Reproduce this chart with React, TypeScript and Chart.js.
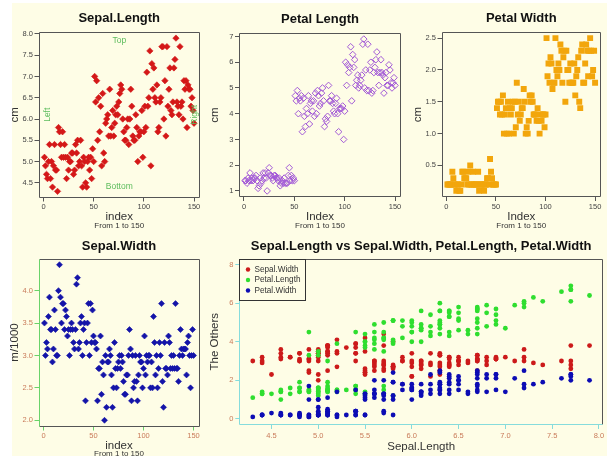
import React, { useEffect, useRef } from 'react';
import { Chart, registerables } from 'chart.js';
Chart.register(...registerables);

// ---------------- data (iris) ----------------
const SEPAL_LENGTH = [
  5.1, 4.9, 4.7, 4.6, 5.0, 5.4, 4.6, 5.0, 4.4, 4.9, 5.4, 4.8, 4.8, 4.3, 5.8, 5.7, 5.4, 5.1, 5.7, 5.1,
  5.4, 5.1, 4.6, 5.1, 4.8, 5.0, 5.0, 5.2, 5.2, 4.7, 4.8, 5.4, 5.2, 5.5, 4.9, 5.0, 5.5, 4.9, 4.4, 5.1,
  5.0, 4.5, 4.4, 5.0, 5.1, 4.8, 5.1, 4.6, 5.3, 5.0, 7.0, 6.4, 6.9, 5.5, 6.5, 5.7, 6.3, 4.9, 6.6, 5.2,
  5.0, 5.9, 6.0, 6.1, 5.6, 6.7, 5.6, 5.8, 6.2, 5.6, 5.9, 6.1, 6.3, 6.1, 6.4, 6.6, 6.8, 6.7, 6.0, 5.7,
  5.5, 5.5, 5.8, 6.0, 5.4, 6.0, 6.7, 6.3, 5.6, 5.5, 5.5, 6.1, 5.8, 5.0, 5.6, 5.7, 5.7, 6.2, 5.1, 5.7,
  6.3, 5.8, 7.1, 6.3, 6.5, 7.6, 4.9, 7.3, 6.7, 7.2, 6.5, 6.4, 6.8, 5.7, 5.8, 6.4, 6.5, 7.7, 7.7, 6.0,
  6.9, 5.6, 7.7, 6.3, 6.7, 7.2, 6.2, 6.1, 6.4, 7.2, 7.4, 7.9, 6.4, 6.3, 6.1, 7.7, 6.3, 6.4, 6.0, 6.9,
  6.7, 6.9, 5.8, 6.8, 6.7, 6.7, 6.3, 6.5, 6.2, 5.9,
];
const SEPAL_WIDTH = [
  3.5, 3.0, 3.2, 3.1, 3.6, 3.9, 3.4, 3.4, 2.9, 3.1, 3.7, 3.4, 3.0, 3.0, 4.0, 4.4, 3.9, 3.5, 3.8, 3.8,
  3.4, 3.7, 3.6, 3.3, 3.4, 3.0, 3.4, 3.5, 3.4, 3.2, 3.1, 3.4, 4.1, 4.2, 3.1, 3.2, 3.5, 3.6, 3.0, 3.4,
  3.5, 2.3, 3.2, 3.5, 3.8, 3.0, 3.8, 3.2, 3.7, 3.3, 3.2, 3.2, 3.1, 2.3, 2.8, 2.8, 3.3, 2.4, 2.9, 2.7,
  2.0, 3.0, 2.2, 2.9, 2.9, 3.1, 3.0, 2.7, 2.2, 2.5, 3.2, 2.8, 2.5, 2.8, 2.9, 3.0, 2.8, 3.0, 2.9, 2.6,
  2.4, 2.4, 2.7, 2.7, 3.0, 3.4, 3.1, 2.3, 3.0, 2.5, 2.6, 3.0, 2.6, 2.3, 2.7, 3.0, 2.9, 2.9, 2.5, 2.8,
  3.3, 2.7, 3.0, 2.9, 3.0, 3.0, 2.5, 2.9, 2.5, 3.6, 3.2, 2.7, 3.0, 2.5, 2.8, 3.2, 3.0, 3.8, 2.6, 2.2,
  3.2, 2.8, 2.8, 2.7, 3.3, 3.2, 2.8, 3.0, 2.8, 3.0, 2.8, 3.8, 2.8, 2.8, 2.6, 3.0, 3.4, 3.1, 3.0, 3.1,
  3.1, 3.1, 2.7, 3.2, 3.3, 3.0, 2.5, 3.0, 3.4, 3.0,
];
const PETAL_LENGTH = [
  1.4, 1.4, 1.3, 1.5, 1.4, 1.7, 1.4, 1.5, 1.4, 1.5, 1.5, 1.6, 1.4, 1.1, 1.2, 1.5, 1.3, 1.4, 1.7, 1.5,
  1.7, 1.5, 1.0, 1.7, 1.9, 1.6, 1.6, 1.5, 1.4, 1.6, 1.6, 1.5, 1.5, 1.4, 1.5, 1.2, 1.3, 1.4, 1.3, 1.5,
  1.3, 1.3, 1.3, 1.6, 1.9, 1.4, 1.6, 1.4, 1.5, 1.4, 4.7, 4.5, 4.9, 4.0, 4.6, 4.5, 4.7, 3.3, 4.6, 3.9,
  3.5, 4.2, 4.0, 4.7, 3.6, 4.4, 4.5, 4.1, 4.5, 3.9, 4.8, 4.0, 4.9, 4.7, 4.3, 4.4, 4.8, 5.0, 4.5, 3.5,
  3.8, 3.7, 3.9, 5.1, 4.5, 4.5, 4.7, 4.4, 4.1, 4.0, 4.4, 4.6, 4.0, 3.3, 4.2, 4.2, 4.2, 4.3, 3.0, 4.1,
  6.0, 5.1, 5.9, 5.6, 5.8, 6.6, 4.5, 6.3, 5.8, 6.1, 5.1, 5.3, 5.5, 5.0, 5.1, 5.3, 5.5, 6.7, 6.9, 5.0,
  5.7, 4.9, 6.7, 4.9, 5.7, 6.0, 4.8, 4.9, 5.6, 5.8, 6.1, 6.4, 5.6, 5.1, 5.6, 6.1, 5.6, 5.5, 4.8, 5.4,
  5.6, 5.1, 5.1, 5.9, 5.7, 5.2, 5.0, 5.2, 5.4, 5.1,
];
const PETAL_WIDTH = [
  0.2, 0.2, 0.2, 0.2, 0.2, 0.4, 0.3, 0.2, 0.2, 0.1, 0.2, 0.2, 0.1, 0.1, 0.2, 0.4, 0.4, 0.3, 0.3, 0.3,
  0.2, 0.4, 0.2, 0.5, 0.2, 0.2, 0.4, 0.2, 0.2, 0.2, 0.2, 0.4, 0.1, 0.2, 0.2, 0.2, 0.2, 0.1, 0.2, 0.2,
  0.3, 0.3, 0.2, 0.6, 0.4, 0.3, 0.2, 0.2, 0.2, 0.2, 1.4, 1.5, 1.5, 1.3, 1.5, 1.3, 1.6, 1.0, 1.3, 1.4,
  1.0, 1.5, 1.0, 1.4, 1.3, 1.4, 1.5, 1.0, 1.5, 1.1, 1.8, 1.3, 1.5, 1.2, 1.3, 1.4, 1.4, 1.7, 1.5, 1.0,
  1.1, 1.0, 1.2, 1.6, 1.5, 1.6, 1.5, 1.3, 1.3, 1.3, 1.2, 1.4, 1.2, 1.0, 1.3, 1.2, 1.3, 1.3, 1.1, 1.3,
  2.5, 1.9, 2.1, 1.8, 2.2, 2.1, 1.7, 1.8, 1.8, 2.5, 2.0, 1.9, 2.1, 2.0, 2.4, 2.3, 1.8, 2.2, 2.3, 1.5,
  2.3, 2.0, 2.0, 1.8, 2.1, 1.8, 1.8, 1.8, 2.1, 1.6, 1.9, 2.0, 2.2, 1.5, 1.4, 2.3, 2.4, 1.8, 1.8, 2.1,
  2.4, 2.3, 1.9, 2.3, 2.5, 2.3, 1.9, 2.0, 2.3, 1.8,
];

const INDEX_TICKS = [0, 50, 100, 150];
const SL_TICKS = [4.5, 5.0, 5.5, 6.0, 6.5, 7.0, 7.5, 8.0];
const PL_TICKS = [1, 2, 3, 4, 5, 6, 7];
const PW_TICKS = [0.5, 1.0, 1.5, 2.0, 2.5];
const SW_TICKS = [2.0, 2.5, 3.0, 3.5, 4.0];
const SCAT_X_TICKS = [4.5, 5.0, 5.5, 6.0, 6.5, 7.0, 7.5, 8.0];
const SCAT_Y_TICKS = [0, 2, 4, 6, 8];
const LEGEND_LABELS = ['Sepal.Width', 'Petal.Length', 'Petal.Width'];

// ---------------- styling ----------------
const W = 607;
const H = 456;
const Y_AXIS_W = 30;
const X_AXIS_H = 18;
const FF = '"Liberation Sans", Arial, sans-serif';
const BG = '#fefde6';
const FRAME = '#555555';
const TICK_TXT = '#444444';
const TICK_TXT2 = '#c97b5a';
const GREEN_AX = '#6ad36a';
const CYAN_AX = '#86dcdc';
const NOTE = '#5cbc5c';

type Area = { left: number; top: number; right: number; bottom: number };
type Txt = {
  text: string;
  x: (a: Area) => number;
  y: (a: Area) => number;
  font: string;
  color: string;
  rot?: boolean;
  align?: CanvasTextAlign;
};
type Frame = { top: string; right: string; bottom: string; left: string };
type LegendSpec = { labels: string[]; colors: string[] };

const cx = (a: Area) => (a.left + a.right) / 2;
const cy = (a: Area) => (a.top + a.bottom) / 2;

function makeDeco(frame: Frame, texts: Txt[], legend?: LegendSpec) {
  return {
    id: 'deco',
    afterDraw(chart: any) {
      const ctx: CanvasRenderingContext2D = chart.ctx;
      const a: Area = chart.chartArea;
      ctx.save();
      ctx.lineWidth = 1;
      const l = Math.round(a.left) + 0.5;
      const r = Math.round(a.right) - 0.5;
      const t = Math.round(a.top) + 0.5;
      const b = Math.round(a.bottom) - 0.5;
      const seg = (x1: number, y1: number, x2: number, y2: number, c: string) => {
        ctx.strokeStyle = c;
        ctx.beginPath();
        ctx.moveTo(x1, y1);
        ctx.lineTo(x2, y2);
        ctx.stroke();
      };
      seg(l, t, r, t, frame.top);
      seg(r, t, r, b, frame.right);
      seg(l, b, r, b, frame.bottom);
      seg(l, t, l, b, frame.left);

      for (const tx of texts) {
        ctx.save();
        ctx.font = tx.font;
        ctx.fillStyle = tx.color;
        ctx.textAlign = tx.align || 'center';
        ctx.textBaseline = 'middle';
        ctx.translate(tx.x(a), tx.y(a));
        if (tx.rot) ctx.rotate(-Math.PI / 2);
        ctx.fillText(tx.text, 0, 0);
        ctx.restore();
      }

      if (legend) {
        const bx = Math.round(a.left) + 0.5;
        const by = Math.round(a.top) + 0.5;
        ctx.fillStyle = BG;
        ctx.fillRect(bx, by, 66, 41);
        ctx.strokeStyle = '#333333';
        ctx.strokeRect(bx, by, 66, 41);
        ctx.font = '8.2px ' + FF;
        ctx.textAlign = 'left';
        ctx.textBaseline = 'middle';
        legend.labels.forEach((lab, i) => {
          const yy = by + 10 + i * 10.5;
          ctx.fillStyle = legend.colors[i];
          ctx.beginPath();
          ctx.arc(bx + 8.5, yy, 2.2, 0, Math.PI * 2);
          ctx.fill();
          ctx.fillStyle = '#333333';
          ctx.fillText(lab, bx + 15, yy);
        });
      }
      ctx.restore();
    },
  };
}

type AxisSpec = {
  min: number;
  max: number;
  ticks: number[];
  fmt: (v: number) => string;
  tickColor: string;
  labelColor: string;
  pad: number;
};

function axis(pos: 'bottom' | 'left', s: AxisSpec) {
  return {
    type: 'linear',
    position: pos,
    min: s.min,
    max: s.max,
    afterFit: (sc: any) => {
      if (pos === 'bottom') sc.height = X_AXIS_H;
      else sc.width = Y_AXIS_W;
    },
    afterBuildTicks: (sc: any) => {
      sc.ticks = s.ticks.map((v) => ({ value: v }));
    },
    ticks: {
      autoSkip: false,
      maxRotation: 0,
      minRotation: 0,
      padding: s.pad,
      color: s.labelColor,
      font: { family: FF, size: 7.5 },
      callback: (v: any) => s.fmt(Number(v)),
    },
    grid: {
      drawOnChartArea: false,
      drawTicks: true,
      tickLength: 4,
      tickColor: s.tickColor,
      lineWidth: 1,
    },
    border: { display: false },
  };
}

const f1 = (v: number) => v.toFixed(1);
const f0 = (v: number) => v.toFixed(0);

type PanelSpec = {
  frame: { l: number; t: number; r: number; b: number };
  datasets: any[];
  x: AxisSpec;
  y: AxisSpec;
  frameColors: Frame;
  texts: Txt[];
  legend?: LegendSpec;
};

const TITLE_FONT = 'bold 13px ' + FF;
const LAB_FONT = '11.5px ' + FF;
const SUB_FONT = '8px ' + FF;
const NOTE_FONT = '8.5px ' + FF;

function idxTexts(title: string, ylab: string, xlab: string): Txt[] {
  return [
    { text: title, x: cx, y: (a) => a.top - 14, font: TITLE_FONT, color: '#111111' },
    { text: ylab, x: (a) => a.left - 24, y: cy, font: LAB_FONT, color: '#333333', rot: true },
    { text: xlab, x: cx, y: (a) => a.bottom + 19.5, font: LAB_FONT, color: '#333333' },
    { text: 'From 1 to 150', x: cx, y: (a) => a.bottom + 28.5, font: SUB_FONT, color: '#333333' },
  ];
}

const topFrame: Frame = { top: FRAME, right: FRAME, bottom: FRAME, left: FRAME };
const idxX = (tc: string, lc: string): AxisSpec => ({
  min: -4.96, max: 155.96, ticks: INDEX_TICKS, fmt: f0, tickColor: tc, labelColor: lc, pad: 1,
});
const rangeOf = (vals: number[]) => {
  const mn = Math.min(...vals);
  const mx = Math.max(...vals);
  const e = (mx - mn) * 0.04;
  return { min: mn - e, max: mx + e };
};
const toIdx = (vals: number[]) => vals.map((v, i) => ({ x: i + 1, y: v }));

const PANELS: PanelSpec[] = [
  {
    frame: { l: 38.5, t: 32, r: 200, b: 197.5 },
    datasets: [
      {
        data: toIdx(SEPAL_LENGTH),
        pointStyle: 'rectRot',
        pointRadius: 3.2,
        backgroundColor: '#d41818',
        borderColor: '#d41818',
        borderWidth: 0.6,
      },
    ],
    x: idxX(FRAME, TICK_TXT),
    y: { ...rangeOf(SEPAL_LENGTH), ticks: SL_TICKS, fmt: f1, tickColor: FRAME, labelColor: TICK_TXT, pad: 1.5 },
    frameColors: topFrame,
    texts: [
      ...idxTexts('Sepal.Length', 'cm', 'index'),
      { text: 'Top', x: cx, y: (a) => a.top + 9, font: NOTE_FONT, color: NOTE },
      { text: 'Bottom', x: cx, y: (a) => a.bottom - 11, font: NOTE_FONT, color: NOTE },
      { text: 'Left', x: (a) => a.left + 9, y: cy, font: NOTE_FONT, color: NOTE, rot: true },
      { text: 'Right', x: (a) => a.right - 5, y: cy, font: NOTE_FONT, color: NOTE, rot: true },
    ],
  },
  {
    frame: { l: 239, t: 33, r: 401, b: 197 },
    datasets: [
      {
        data: toIdx(PETAL_LENGTH),
        pointStyle: 'rectRot',
        pointRadius: 3.3,
        backgroundColor: 'rgba(0,0,0,0)',
        borderColor: '#a259d6',
        borderWidth: 1,
      },
    ],
    x: idxX(FRAME, TICK_TXT),
    y: { ...rangeOf(PETAL_LENGTH), ticks: PL_TICKS, fmt: f0, tickColor: FRAME, labelColor: TICK_TXT, pad: 1.5 },
    frameColors: topFrame,
    texts: idxTexts('Petal Length', 'cm', 'Index'),
  },
  {
    frame: { l: 441.5, t: 32, r: 601, b: 197 },
    datasets: [
      {
        data: toIdx(PETAL_WIDTH),
        pointStyle: 'rect',
        pointRadius: 4.2,
        backgroundColor: '#f2a60c',
        borderColor: '#f2a60c',
        borderWidth: 0,
      },
    ],
    x: idxX(FRAME, TICK_TXT),
    y: { ...rangeOf(PETAL_WIDTH), ticks: PW_TICKS, fmt: f1, tickColor: FRAME, labelColor: TICK_TXT, pad: 1.5 },
    frameColors: topFrame,
    texts: idxTexts('Petal Width', 'cm', 'Index'),
  },
  {
    frame: { l: 38.5, t: 258.5, r: 199.5, b: 426.5 },
    datasets: [
      {
        data: toIdx(SEPAL_WIDTH),
        pointStyle: 'rectRot',
        pointRadius: 3,
        backgroundColor: '#1414a8',
        borderColor: '#1414a8',
        borderWidth: 0.6,
      },
    ],
    x: idxX(GREEN_AX, TICK_TXT2),
    y: { ...rangeOf(SEPAL_WIDTH), ticks: SW_TICKS, fmt: f1, tickColor: GREEN_AX, labelColor: TICK_TXT2, pad: 1.5 },
    frameColors: { top: FRAME, right: FRAME, bottom: FRAME, left: GREEN_AX },
    texts: [
      { text: 'Sepal.Width', x: cx, y: (a) => a.top - 12.5, font: TITLE_FONT, color: '#111111' },
      { text: 'm/1000', x: (a) => a.left - 24, y: cy, font: LAB_FONT, color: '#333333', rot: true },
      { text: 'index', x: cx, y: (a) => a.bottom + 19, font: LAB_FONT, color: '#333333' },
      { text: 'From 1 to 150', x: cx, y: (a) => a.bottom + 27.5, font: SUB_FONT, color: '#333333' },
    ],
  },
  {
    frame: { l: 239.3, t: 258.5, r: 603, b: 425 },
    datasets: [
      {
        label: LEGEND_LABELS[2],
        data: SEPAL_LENGTH.map((x, i) => ({ x, y: PETAL_WIDTH[i] })),
        pointStyle: 'circle',
        pointRadius: 2.4,
        backgroundColor: '#0c0cb4',
        borderWidth: 0,
      },
      {
        label: LEGEND_LABELS[1],
        data: SEPAL_LENGTH.map((x, i) => ({ x, y: PETAL_LENGTH[i] })),
        pointStyle: 'circle',
        pointRadius: 2.4,
        backgroundColor: '#2fde2f',
        borderWidth: 0,
      },
      {
        label: LEGEND_LABELS[0],
        data: SEPAL_LENGTH.map((x, i) => ({ x, y: SEPAL_WIDTH[i] })),
        pointStyle: 'circle',
        pointRadius: 2.4,
        backgroundColor: '#cc1a1a',
        borderWidth: 0,
      },
    ],
    x: { ...rangeOf(SEPAL_LENGTH), ticks: SCAT_X_TICKS, fmt: f1, tickColor: CYAN_AX, labelColor: TICK_TXT2, pad: 2 },
    y: { min: -0.32, max: 8.32, ticks: SCAT_Y_TICKS, fmt: f0, tickColor: CYAN_AX, labelColor: TICK_TXT2, pad: 2 },
    frameColors: { top: FRAME, right: FRAME, bottom: CYAN_AX, left: CYAN_AX },
    texts: [
      {
        text: 'Sepal.Length vs Sepal.Width, Petal.Length, Petal.Width',
        x: cx,
        y: (a) => a.top - 12.5,
        font: TITLE_FONT,
        color: '#111111',
      },
      { text: 'The Others', x: (a) => a.left - 24, y: cy, font: LAB_FONT, color: '#333333', rot: true },
      { text: 'Sepal.Length', x: cx, y: (a) => a.bottom + 21.5, font: LAB_FONT, color: '#333333' },
    ],
    legend: { labels: LEGEND_LABELS, colors: ['#cc1a1a', '#2fde2f', '#0c0cb4'] },
  },
];

function Panel({ spec }: { spec: PanelSpec }) {
  const ref = useRef<HTMLCanvasElement | null>(null);
  useEffect(() => {
    const canvas = ref.current;
    if (!canvas) return;
    const f = spec.frame;
    const chart = new Chart(canvas, {
      type: 'scatter',
      data: { datasets: spec.datasets },
      options: {
        responsive: false,
        animation: false,
        events: [],
        devicePixelRatio: 1,
        layout: {
          padding: {
            left: f.l - Y_AXIS_W,
            top: f.t,
            right: W - f.r,
            bottom: H - f.b - X_AXIS_H,
          },
        },
        plugins: { legend: { display: false }, tooltip: { enabled: false }, title: { display: false } },
        scales: {
          x: axis('bottom', spec.x) as any,
          y: axis('left', spec.y) as any,
        },
      },
      plugins: [makeDeco(spec.frameColors, spec.texts, spec.legend)],
    } as any);
    return () => chart.destroy();
  }, [spec]);
  return (
    <canvas
      ref={ref}
      width={W}
      height={H}
      style={{ position: 'absolute', left: 0, top: 0, width: W, height: H }}
    />
  );
}

export default function App() {
  return (
    <div
      style={{
        position: 'absolute',
        left: 0,
        top: 0,
        width: W,
        height: H,
        background: '#ffffff',
        overflow: 'hidden',
      }}
    >
      <div style={{ position: 'absolute', left: 12, top: 3, right: 0, bottom: 0, background: BG }} />
      {PANELS.map((p, i) => (
        <Panel key={i} spec={p} />
      ))}
    </div>
  );
}
